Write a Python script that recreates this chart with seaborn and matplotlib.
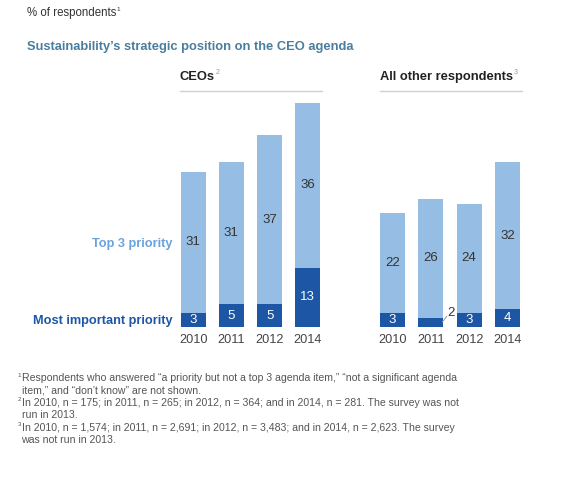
import matplotlib
matplotlib.use("Agg")
import matplotlib.pyplot as plt
import seaborn as sns
import pandas as pd

sns.set_theme(style="white")
plt.rcParams['font.family'] = ['Liberation Sans', 'DejaVu Sans']

years = ["2010", "2011", "2012", "2014"]
ceo_top3 = [31, 31, 37, 36]
ceo_most = [3, 5, 5, 13]
oth_top3 = [22, 26, 24, 32]
oth_most = [3, 2, 3, 4]

LIGHT = "#96bde3"
DARK = "#1c56a5"
GRAY = "#444444"

W, H = 570, 486
fig = plt.figure(figsize=(W / 100, H / 100), dpi=100)
renderer = fig.canvas.get_renderer()

def fx(px):
    return px / W

def fy(py):
    return 1 - py / H

base_px = 327
top_px = 98.5
ax_b = fy(base_px)
ax_h = (base_px - top_px) / H

def panel(left_px, top3, most, label_out=None):
    ax = fig.add_axes([fx(left_px), ax_b, 153 / W, ax_h])
    df = pd.DataFrame({"year": years,
                       "total": [a + b for a, b in zip(top3, most)],
                       "most": most})
    sns.barplot(data=df, x="year", y="total", color=LIGHT, width=0.655,
                saturation=1, ax=ax, edgecolor="none")
    sns.barplot(data=df, x="year", y="most", color=DARK, width=0.655,
                saturation=1, ax=ax, edgecolor="none")
    ax.set_ylim(0, 50)
    ax.set_xlim(-0.5, 3.5)
    for s in ax.spines.values():
        s.set_visible(False)
    ax.set_yticks([])
    ax.set_xlabel("")
    ax.set_ylabel("")
    ax.tick_params(axis="x", length=0, pad=5, labelsize=9.2, labelcolor=GRAY)
    for i, (t, m) in enumerate(zip(top3, most)):
        ax.text(i, m + t / 2, str(t), ha="center", va="center",
                fontsize=9.5, color="#333333")
        if label_out is not None and i == label_out:
            ax.plot([i + 0.3, i + 0.42], [m * 0.55, m + 0.4], color="#999999",
                    lw=0.7, clip_on=False)
            ax.text(i + 0.52, m + 1.1, str(m), ha="center", va="center",
                    fontsize=9.5, color="#333333")
        else:
            ax.text(i, m / 2, str(m), ha="center", va="center",
                    fontsize=9.5, color="white")
    return ax

panel(174, ceo_top3, ceo_most)
panel(373.5, oth_top3, oth_most, label_out=1)

def text_sup(xpx, ypx, s, sup, size, color, supcolor=None, **kw):
    t = fig.text(fx(xpx), fy(ypx), s, fontsize=size, color=color, va="center", **kw)
    bb = t.get_window_extent(renderer=renderer)
    fig.text(fx(bb.x1 + 0.5), fy(ypx - size * 0.45), sup, fontsize=size * 0.55,
             color=supcolor or color, va="center")

# Headers
text_sup(27, 13, "% of respondents", "1", 8.3, "#333333")
fig.text(fx(27), fy(47), "Sustainability\u2019s strategic position on the CEO agenda",
         fontsize=9.3, fontweight="bold", color="#4a7d9e", va="center")
text_sup(180, 77, "CEOs", "2", 9.3, "#222222", supcolor="#999999", fontweight="bold")
text_sup(380, 77, "All other respondents", "3", 9.3, "#222222", supcolor="#999999",
         fontweight="bold")
for x0, x1 in [(180, 322), (380, 522)]:
    fig.add_artist(plt.Line2D([fx(x0), fx(x1)], [fy(91), fy(91)], color="#d0d0d0", lw=1))

fig.text(fx(173), fy(244), "Top 3 priority", fontsize=9.2, fontweight="bold",
         color="#6aa3dc", ha="right", va="center")
fig.text(fx(173), fy(321), "Most important priority", fontsize=9.2, fontweight="bold",
         color=DARK, ha="right", va="center")

notes = [
    ("1", "Respondents who answered \u201ca priority but not a top 3 agenda item,\u201d \u201cnot a significant agenda"),
    ("", "item,\u201d and \u201cdon\u2019t know\u201d are not shown."),
    ("2", "In 2010, n = 175; in 2011, n = 265; in 2012, n = 364; and in 2014, n = 281. The survey was not"),
    ("", "run in 2013."),
    ("3", "In 2010, n = 1,574; in 2011, n = 2,691; in 2012, n = 3,483; and in 2014, n = 2,623. The survey"),
    ("", "was not run in 2013."),
]
for k, (sup, line) in enumerate(notes):
    y = 378 + k * 12.4
    if sup:
        fig.text(fx(21), fy(y - 3), sup, fontsize=4.5, color="#555555", va="center",
                 ha="right")
    fig.text(fx(21.5), fy(y), line, fontsize=7.6, color="#555555", va="center")

fig.savefig("out.png", dpi=100)
